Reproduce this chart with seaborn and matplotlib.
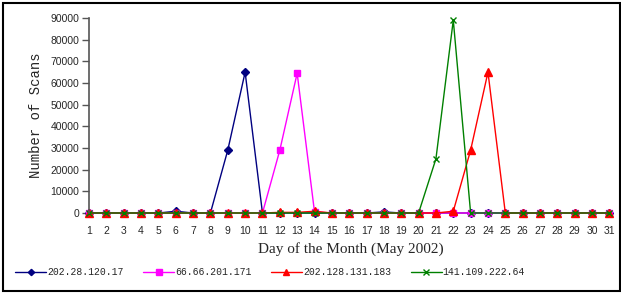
import matplotlib
matplotlib.use("Agg")
import matplotlib.pyplot as plt
import seaborn as sns
import pandas as pd
from matplotlib.patches import Rectangle

days = list(range(1, 32))
labels = ["202.28.120.17", "66.66.201.171", "202.128.131.183", "141.109.222.64"]

s1 = [0, 0, 0, 0, 0, 800, 0, 0, 29000, 65000, 0, 0, 0, 0, 0, 0, 0, 500, 0, 0,
      0, 0, 0, 0, 0, 0, 0, 0, 0, 0, 0]
s2 = [0, 0, 0, 0, 0, 0, 0, 0, 0, 0, 0, 29000, 64500, 500, 0, 0, 0, 0, 0, 0,
      0, 0, 0, 0, 0, 0, 0, 0, 0, 0, 0]
s3 = [0, 0, 0, 0, 0, 0, 0, 0, 0, 0, 0, 300, 300, 800, 0, 0, 0, 0, 0, 0,
      0, 800, 29000, 65000, 0, 0, 0, 0, 0, 0, 0]
s4 = [0, 0, 0, 0, 0, 0, 0, 0, 0, 0, 0, 0, 0, 0, 0, 0, 0, 0, 0, 0,
      25000, 89000, 0, 0, 0, 0, 0, 0, 0, 0, 0]

series = [s1, s2, s3, s4]
colors = ["#000080", "#FF00FF", "#FF0000", "#008000"]
markers = ["D", "s", "^", "x"]
msizes = [4, 5, 6, 5]

sns.set_style("white")
fig = plt.figure(figsize=(6.21, 2.93), dpi=100)
ax = fig.add_axes([89 / 621, 80 / 293, (612 - 89) / 621, 195 / 293])

for lab, vals, c, m, ms in zip(labels, series, colors, markers, msizes):
    df = pd.DataFrame({"day": days, "scans": vals})
    sns.lineplot(data=df, x="day", y="scans", ax=ax, color=c, marker=m,
                 markersize=ms, markeredgecolor=c, markeredgewidth=1.0,
                 linewidth=1.0, label=lab, clip_on=False)

ax.set_xlim(1, 31.15)
ax.set_ylim(0, 90000)
ax.set_yticks(range(0, 90001, 10000))
ax.set_yticklabels([str(v) for v in range(0, 90001, 10000)], fontsize=7.5,
                   family="Liberation Sans")
ax.set_xticks(days)
ax.set_xticklabels([str(d) for d in days], fontsize=7.5, family="Liberation Sans")
for s in ["top", "right", "bottom"]:
    ax.spines[s].set_visible(False)
ax.spines["left"].set_color("#555555")
ax.spines["left"].set_linewidth(1.2)
ax.tick_params(axis="y", which="both", left=True, length=5, width=1, color="#555555", pad=2)
ax.tick_params(axis="x", bottom=False, pad=6)

ax.set_ylabel("Number of Scans", family="Liberation Mono", fontsize=10, labelpad=5)
ax.set_xlabel("Day of the Month (May 2002)", family="Liberation Serif", fontsize=11, labelpad=4)

handles, labs = ax.get_legend_handles_labels()
ax.get_legend().remove()
fig.legend(handles, labs, loc="center", bbox_to_anchor=(270 / 621, 21 / 293), ncol=4,
           frameon=False, prop={"family": "Liberation Mono", "size": 7},
           handlelength=3.2, handletextpad=0.1, columnspacing=2.0, borderaxespad=0,
           markerscale=0.8)

fig.patches.append(Rectangle((3 / 621, 2 / 293), 617 / 621, 288 / 293, transform=fig.transFigure,
                             fill=False, edgecolor="black", linewidth=1.5))

fig.savefig("out.png", dpi=100)
